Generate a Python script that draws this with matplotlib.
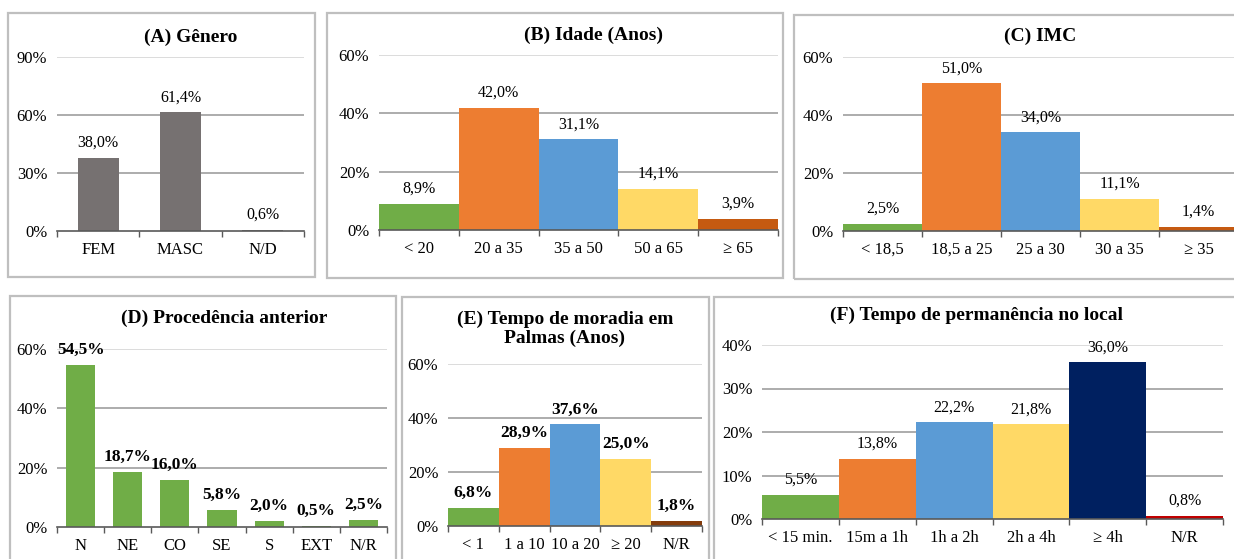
import matplotlib
matplotlib.use("Agg")
from matplotlib import pyplot as plt
from matplotlib.patches import Rectangle
import numpy as np

plt.rcParams['font.family'] = ['Liberation Serif', 'DejaVu Serif']

W, H = 1234, 559

GREEN = '#70AD47'
ORANGE = '#ED7D31'
BLUE = '#5B9BD5'
YELLOW = '#FFD966'
RUST = '#C55A11'
BROWN = '#843C0C'
NAVY = '#002060'
RED = '#C00000'
GRAY = '#767171'

# (A) Genero
a_cats = ['FEM', 'MASC', 'N/D']
a_vals = [38.0, 61.4, 0.6]
a_labels = ['38,0%', '61,4%', '0,6%']

# (B) Idade
b_cats = ['< 20', '20 a 35', '35 a 50', '50 a 65', '≥ 65']
b_vals = [8.9, 42.0, 31.1, 14.1, 3.9]
b_labels = ['8,9%', '42,0%', '31,1%', '14,1%', '3,9%']

# (C) IMC
c_cats = ['< 18,5', '18,5 a 25', '25 a 30', '30 a 35', '≥ 35']
c_vals = [2.5, 51.0, 34.0, 11.1, 1.4]
c_labels = ['2,5%', '51,0%', '34,0%', '11,1%', '1,4%']

# (D) Procedencia anterior
d_cats = ['N', 'NE', 'CO', 'SE', 'S', 'EXT', 'N/R']
d_vals = [54.5, 18.7, 16.0, 5.8, 2.0, 0.5, 2.5]
d_labels = ['54,5%', '18,7%', '16,0%', '5,8%', '2,0%', '0,5%', '2,5%']

# (E) Tempo de moradia
e_cats = ['< 1', '1 a 10', '10 a 20', '≥ 20', 'N/R']
e_vals = [6.8, 28.9, 37.6, 25.0, 1.8]
e_labels = ['6,8%', '28,9%', '37,6%', '25,0%', '1,8%']

# (F) Tempo de permanencia
f_cats = ['< 15 min.', '15m a 1h', '1h a 2h', '2h a 4h', '≥ 4h', 'N/R']
f_vals = [5.5, 13.8, 22.2, 21.8, 36.0, 0.8]
f_labels = ['5,5%', '13,8%', '22,2%', '21,8%', '36,0%', '0,8%']

fig = plt.figure(figsize=(W / 100, H / 100), dpi=100)
fig.patch.set_facecolor('white')


def box(x0, y0, x1, y1):
    r = Rectangle((x0 / W, 1 - y1 / H), (x1 - x0) / W, (y1 - y0) / H,
                  transform=fig.transFigure, fill=False, edgecolor='#BFBFBF',
                  linewidth=1.6, clip_on=False)
    fig.patches.append(r)


def title(x, y, txt):
    fig.text(x / W, 1 - y / H, txt, ha='center', va='center',
             fontsize=14, fontweight='bold', linespacing=1.15)


def panel(x0, x1, ytop, yzero, cats, vals, labels, colors, width, ymax, step,
          bold=False):
    ax = fig.add_axes([x0 / W, 1 - yzero / H, (x1 - x0) / W, (yzero - ytop) / H])
    n = len(cats)
    x = np.arange(n)
    ticks = np.arange(0, ymax + 0.1, step)
    for t in ticks[1:]:
        c = '#D9D9D9' if t == ticks[-1] else '#A6A6A6'
        ax.axhline(t, color=c, lw=1.3, zorder=0)
    ax.bar(x, vals, width=width, color=colors, zorder=2)
    for xi, v, lab in zip(x, vals, labels):
        ax.annotate(lab, (xi, v), xytext=(0, 5), textcoords='offset points',
                    ha='center', va='bottom',
                    fontsize=12.5 if bold else 11.5,
                    fontweight='bold' if bold else 'normal', zorder=3)
    ax.set_xlim(-0.5, n - 0.5)
    ax.set_ylim(0, ymax)
    ax.set_yticks(ticks)
    ax.set_yticklabels(['%d%%' % t for t in ticks])
    ax.set_xticks(x)
    ax.set_xticklabels(cats)
    ax.set_xticks(np.arange(n + 1) - 0.5, minor=True)
    ax.tick_params(axis='x', which='major', length=0, pad=8, labelsize=12)
    ax.tick_params(axis='x', which='minor', length=4, color='#595959', width=1)
    ax.tick_params(axis='y', length=0, pad=7, labelsize=12)
    for s in ['top', 'right', 'left']:
        ax.spines[s].set_visible(False)
    ax.spines['bottom'].set_color('#595959')
    ax.spines['bottom'].set_linewidth(1.2)
    ax.spines['bottom'].set_zorder(4)
    ax.set_facecolor('none')
    return ax


# top row
box(8, 13, 315, 277)
panel(57, 304, 57, 231, a_cats, a_vals, a_labels, GRAY, 0.5, 90, 30)
title(191, 37, '(A) Gênero')

box(327, 13, 783, 278)
panel(379, 778, 55, 230, b_cats, b_vals, b_labels,
      [GREEN, ORANGE, BLUE, YELLOW, RUST], 1.0, 60, 20)
title(594, 35, '(B) Idade (Anos)')

box(794, 15, 1250, 279)
panel(843, 1238, 57, 231, c_cats, c_vals, c_labels,
      [GREEN, ORANGE, BLUE, YELLOW, RUST], 1.0, 60, 20)
title(1040, 36, '(C) IMC')

# bottom row
box(10, 296, 396, 575)
panel(57, 387, 349, 527, d_cats, d_vals, d_labels, GREEN, 0.62, 60, 20, bold=True)
title(224, 318, '(D) Procedência anterior')

box(402, 297, 709, 575)
panel(448, 702, 364, 526, e_cats, e_vals, e_labels,
      [GREEN, ORANGE, BLUE, YELLOW, BROWN], 1.0, 60, 20, bold=True)
title(565, 329, '(E) Tempo de moradia em\nPalmas (Anos)')

box(714, 297, 1250, 575)
panel(762, 1223, 345, 519, f_cats, f_vals, f_labels,
      [GREEN, ORANGE, BLUE, YELLOW, NAVY, RED], 1.0, 40, 10)
title(976, 315, '(F) Tempo de permanência no local')

fig.savefig('out.png', dpi=100, facecolor='white')
